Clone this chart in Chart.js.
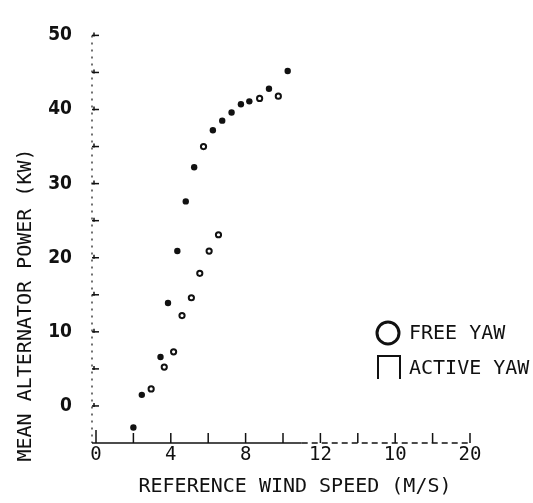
<!DOCTYPE html>
<html><head><meta charset="utf-8">
<script src="https://cdn.jsdelivr.net/npm/chart.js@4.4.1/dist/chart.umd.min.js"></script>
<style>html,body{margin:0;padding:0;background:#fff;}#wrap{width:533px;height:503px;position:relative;}</style>
</head><body><div id="wrap"><canvas id="c" width="533" height="503"></canvas></div>
<script>
// ---- data ----
const activeYawSpeed = [2.0, 2.45, 3.45, 3.85, 4.35, 4.8, 5.25, 6.25, 6.75, 7.25, 7.75, 8.2, 9.25, 10.25];
const activeYawPower = [-2.9, 1.5, 6.6, 13.9, 20.9, 27.6, 32.2, 37.2, 38.5, 39.6, 40.7, 41.1, 42.8, 45.2];
const freeYawSpeed = [2.95, 3.65, 4.15, 4.6, 5.1, 5.55, 6.05, 6.55, 5.75, 8.75, 9.75];
const freeYawPower = [2.3, 5.25, 7.3, 12.2, 14.6, 17.9, 20.9, 23.1, 35.0, 41.5, 41.8];
const xTickValues = [0, 4, 8, 12, 16, 20];
const xTickLabels = ['0', '4', '8', '12', '10', '20'];
const yTickValues = [0, 10, 20, 30, 40, 50];
const yTickLabels = ['0', '10', '20', '30', '40', '50'];
const seriesNames = ['FREE YAW', 'ACTIVE YAW'];
const xTitle = 'REFERENCE WIND SPEED (M/S)';
const yTitle = 'MEAN ALTERNATOR POWER (KW)';

const INK = '#111';
const FONT = '"DejaVu Sans Mono", "Liberation Mono", monospace';
const NUMFONT = '"DejaVu Sans Condensed", "DejaVu Sans", sans-serif';

const toPts = (xs, ys) => xs.map((x, i) => ({x: x, y: ys[i]}));

const decor = {
  id: 'decor',
  afterDraw(chart) {
    const ctx = chart.ctx, xs = chart.scales.x, ys = chart.scales.y;
    ctx.save();
    ctx.strokeStyle = INK; ctx.fillStyle = INK;
    // x axis line (solid then dashed)
    const yAx = ys.getPixelForValue(ys.min);
    ctx.lineWidth = 1.6;
    ctx.beginPath(); ctx.moveTo(xs.getPixelForValue(0) - 4, yAx); ctx.lineTo(xs.getPixelForValue(11), yAx); ctx.stroke();
    ctx.setLineDash([6, 4]);
    ctx.beginPath(); ctx.moveTo(xs.getPixelForValue(11), yAx); ctx.lineTo(xs.getPixelForValue(20), yAx); ctx.stroke();
    ctx.setLineDash([]);
    // x tick marks (inward, every 2)
    ctx.lineWidth = 1.5;
    for (let v = 0; v <= 20; v += 2) {
      const px = xs.getPixelForValue(v);
      ctx.beginPath(); ctx.moveTo(px, yAx); ctx.lineTo(px, yAx - (v === 0 ? 13 : 10)); ctx.stroke();
    }
    // y axis dotted line
    const xAx = xs.getPixelForValue(0) - 4;
    ctx.lineWidth = 1.2;
    ctx.setLineDash([2, 5]);
    ctx.beginPath(); ctx.moveTo(xAx, ys.getPixelForValue(ys.max)); ctx.lineTo(xAx, yAx); ctx.stroke();
    ctx.setLineDash([]);
    // y tick marks (inward, every 5)
    ctx.lineWidth = 1.5;
    for (let v = 0; v <= 50; v += 5) {
      const py = ys.getPixelForValue(v);
      ctx.beginPath(); ctx.moveTo(xAx, py); ctx.lineTo(xAx + 7, py); ctx.stroke();
      ctx.beginPath(); ctx.moveTo(xAx + 2, py - 3); ctx.lineTo(xAx + 2, py + 1); ctx.stroke();
    }
    // axis titles
    ctx.font = '20px ' + FONT;
    ctx.textAlign = 'center'; ctx.textBaseline = 'middle';
    ctx.fillText(xTitle, 295, 487);
    ctx.save();
    ctx.translate(26, 305); ctx.rotate(-Math.PI / 2);
    ctx.fillText(yTitle, 0, 0);
    ctx.restore();
    // legend
    ctx.textAlign = 'left';
    ctx.lineWidth = 3;
    ctx.beginPath(); ctx.arc(388, 333, 11, 0, Math.PI * 2); ctx.stroke();
    ctx.fillText(seriesNames[0], 409, 334);
    ctx.lineWidth = 2;
    ctx.beginPath(); ctx.moveTo(378, 379); ctx.lineTo(378, 356); ctx.lineTo(400, 356); ctx.lineTo(400, 379); ctx.stroke();
    ctx.fillText(seriesNames[1], 409, 369);
    ctx.restore();
  }
};

new Chart(document.getElementById('c'), {
  type: 'scatter',
  data: {
    datasets: [
      {label: seriesNames[0], data: toPts(freeYawSpeed, freeYawPower),
       pointRadius: 2.6, pointBorderWidth: 2, pointBorderColor: INK, pointBackgroundColor: '#fff', showLine: false},
      {label: seriesNames[1], data: toPts(activeYawSpeed, activeYawPower),
       pointRadius: 3.2, pointBorderWidth: 0, pointBorderColor: INK, pointBackgroundColor: INK, showLine: false}
    ]
  },
  options: {
    responsive: false, animation: false, devicePixelRatio: 1,
    layout: {padding: {top: 23, right: 63, bottom: 0, left: 0}},
    plugins: {legend: {display: false}, tooltip: {enabled: false}},
    scales: {
      x: {
        type: 'linear', min: 0, max: 20,
        afterFit: s => { s.height = 60; },
        afterBuildTicks: s => { s.ticks = xTickValues.map(v => ({value: v})); },
        grid: {display: false, drawTicks: false},
        border: {display: false},
        ticks: {padding: 1, color: INK, font: {family: FONT, size: 19},
                callback: (v) => { const i = xTickValues.indexOf(v); return i >= 0 ? xTickLabels[i] : ''; }}
      },
      y: {
        type: 'linear', min: -5, max: 50,
        afterFit: s => { s.width = 96; },
        afterBuildTicks: s => { s.ticks = yTickValues.map(v => ({value: v})); },
        grid: {display: false, drawTicks: false},
        border: {display: false},
        ticks: {padding: 24, color: INK, font: {family: NUMFONT, size: 19, weight: 'bold'},
                callback: (v) => { const i = yTickValues.indexOf(v); return i >= 0 ? yTickLabels[i] : ''; }}
      }
    }
  },
  plugins: [decor]
});
</script></body></html>
